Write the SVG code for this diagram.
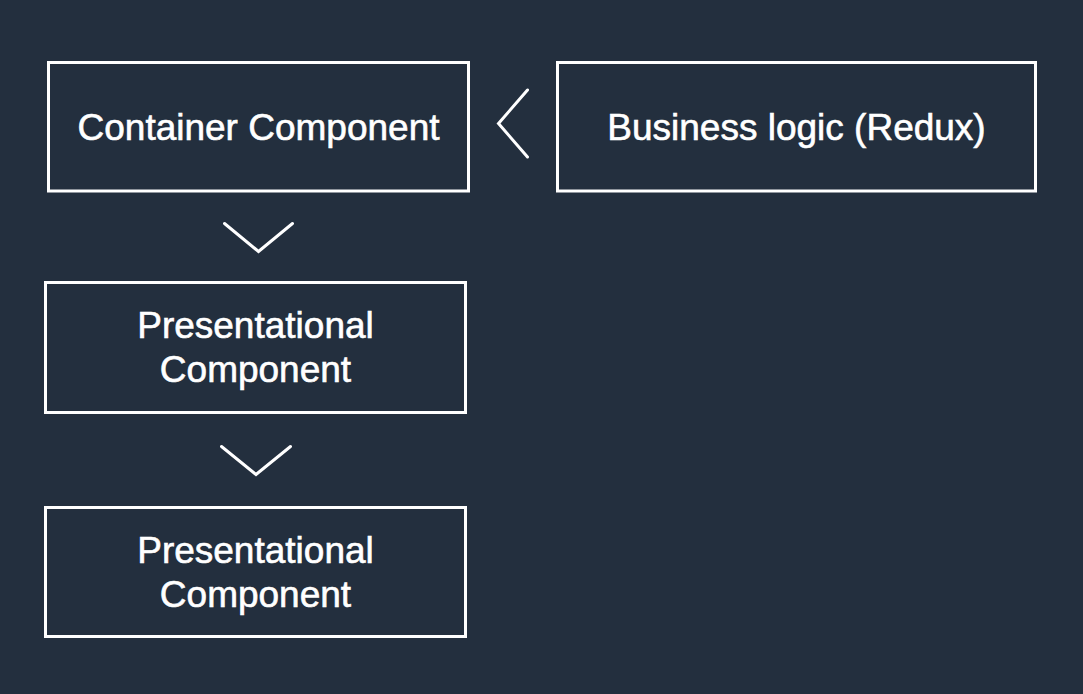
<svg xmlns="http://www.w3.org/2000/svg" width="1083" height="694" viewBox="0 0 1083 694">
<style>
.box{fill:none;stroke:#ffffff;stroke-width:3}
.lbl{fill:#ffffff;stroke:#ffffff;stroke-width:0.6;font-family:"Liberation Sans",Arial,sans-serif;font-size:37px;text-anchor:middle}
.chev{fill:none;stroke:#ffffff;stroke-width:3;stroke-linecap:round;stroke-linejoin:miter}
</style>
<rect width="1083" height="694" fill="#232f3e"/>
<g id="container">
<rect class="box" x="48.5" y="62.5" width="420" height="128.5"/>
<text class="lbl" x="258.5" y="140">Container Component</text>
</g>
<g id="business">
<rect class="box" x="557.5" y="62.5" width="478" height="128.5"/>
<text class="lbl" x="796.5" y="140">Business logic (Redux)</text>
</g>
<g id="presentational1">
<rect class="box" x="45.5" y="282.5" width="420" height="130"/>
<text class="lbl" x="255.5" y="338">Presentational</text>
<text class="lbl" x="255.5" y="382">Component</text>
</g>
<g id="presentational2">
<rect class="box" x="45.5" y="507.5" width="420" height="129"/>
<text class="lbl" x="255.5" y="563">Presentational</text>
<text class="lbl" x="255.5" y="607">Component</text>
</g>
<g id="connectors">
<polyline class="chev" points="527.5,90 498.5,123.5 527.5,157"/>
<polyline class="chev" points="224.5,223.5 258.5,251.5 292.5,223.5"/>
<polyline class="chev" points="221.5,446.5 256,474.5 290.5,446.5"/>
</g>
</svg>
